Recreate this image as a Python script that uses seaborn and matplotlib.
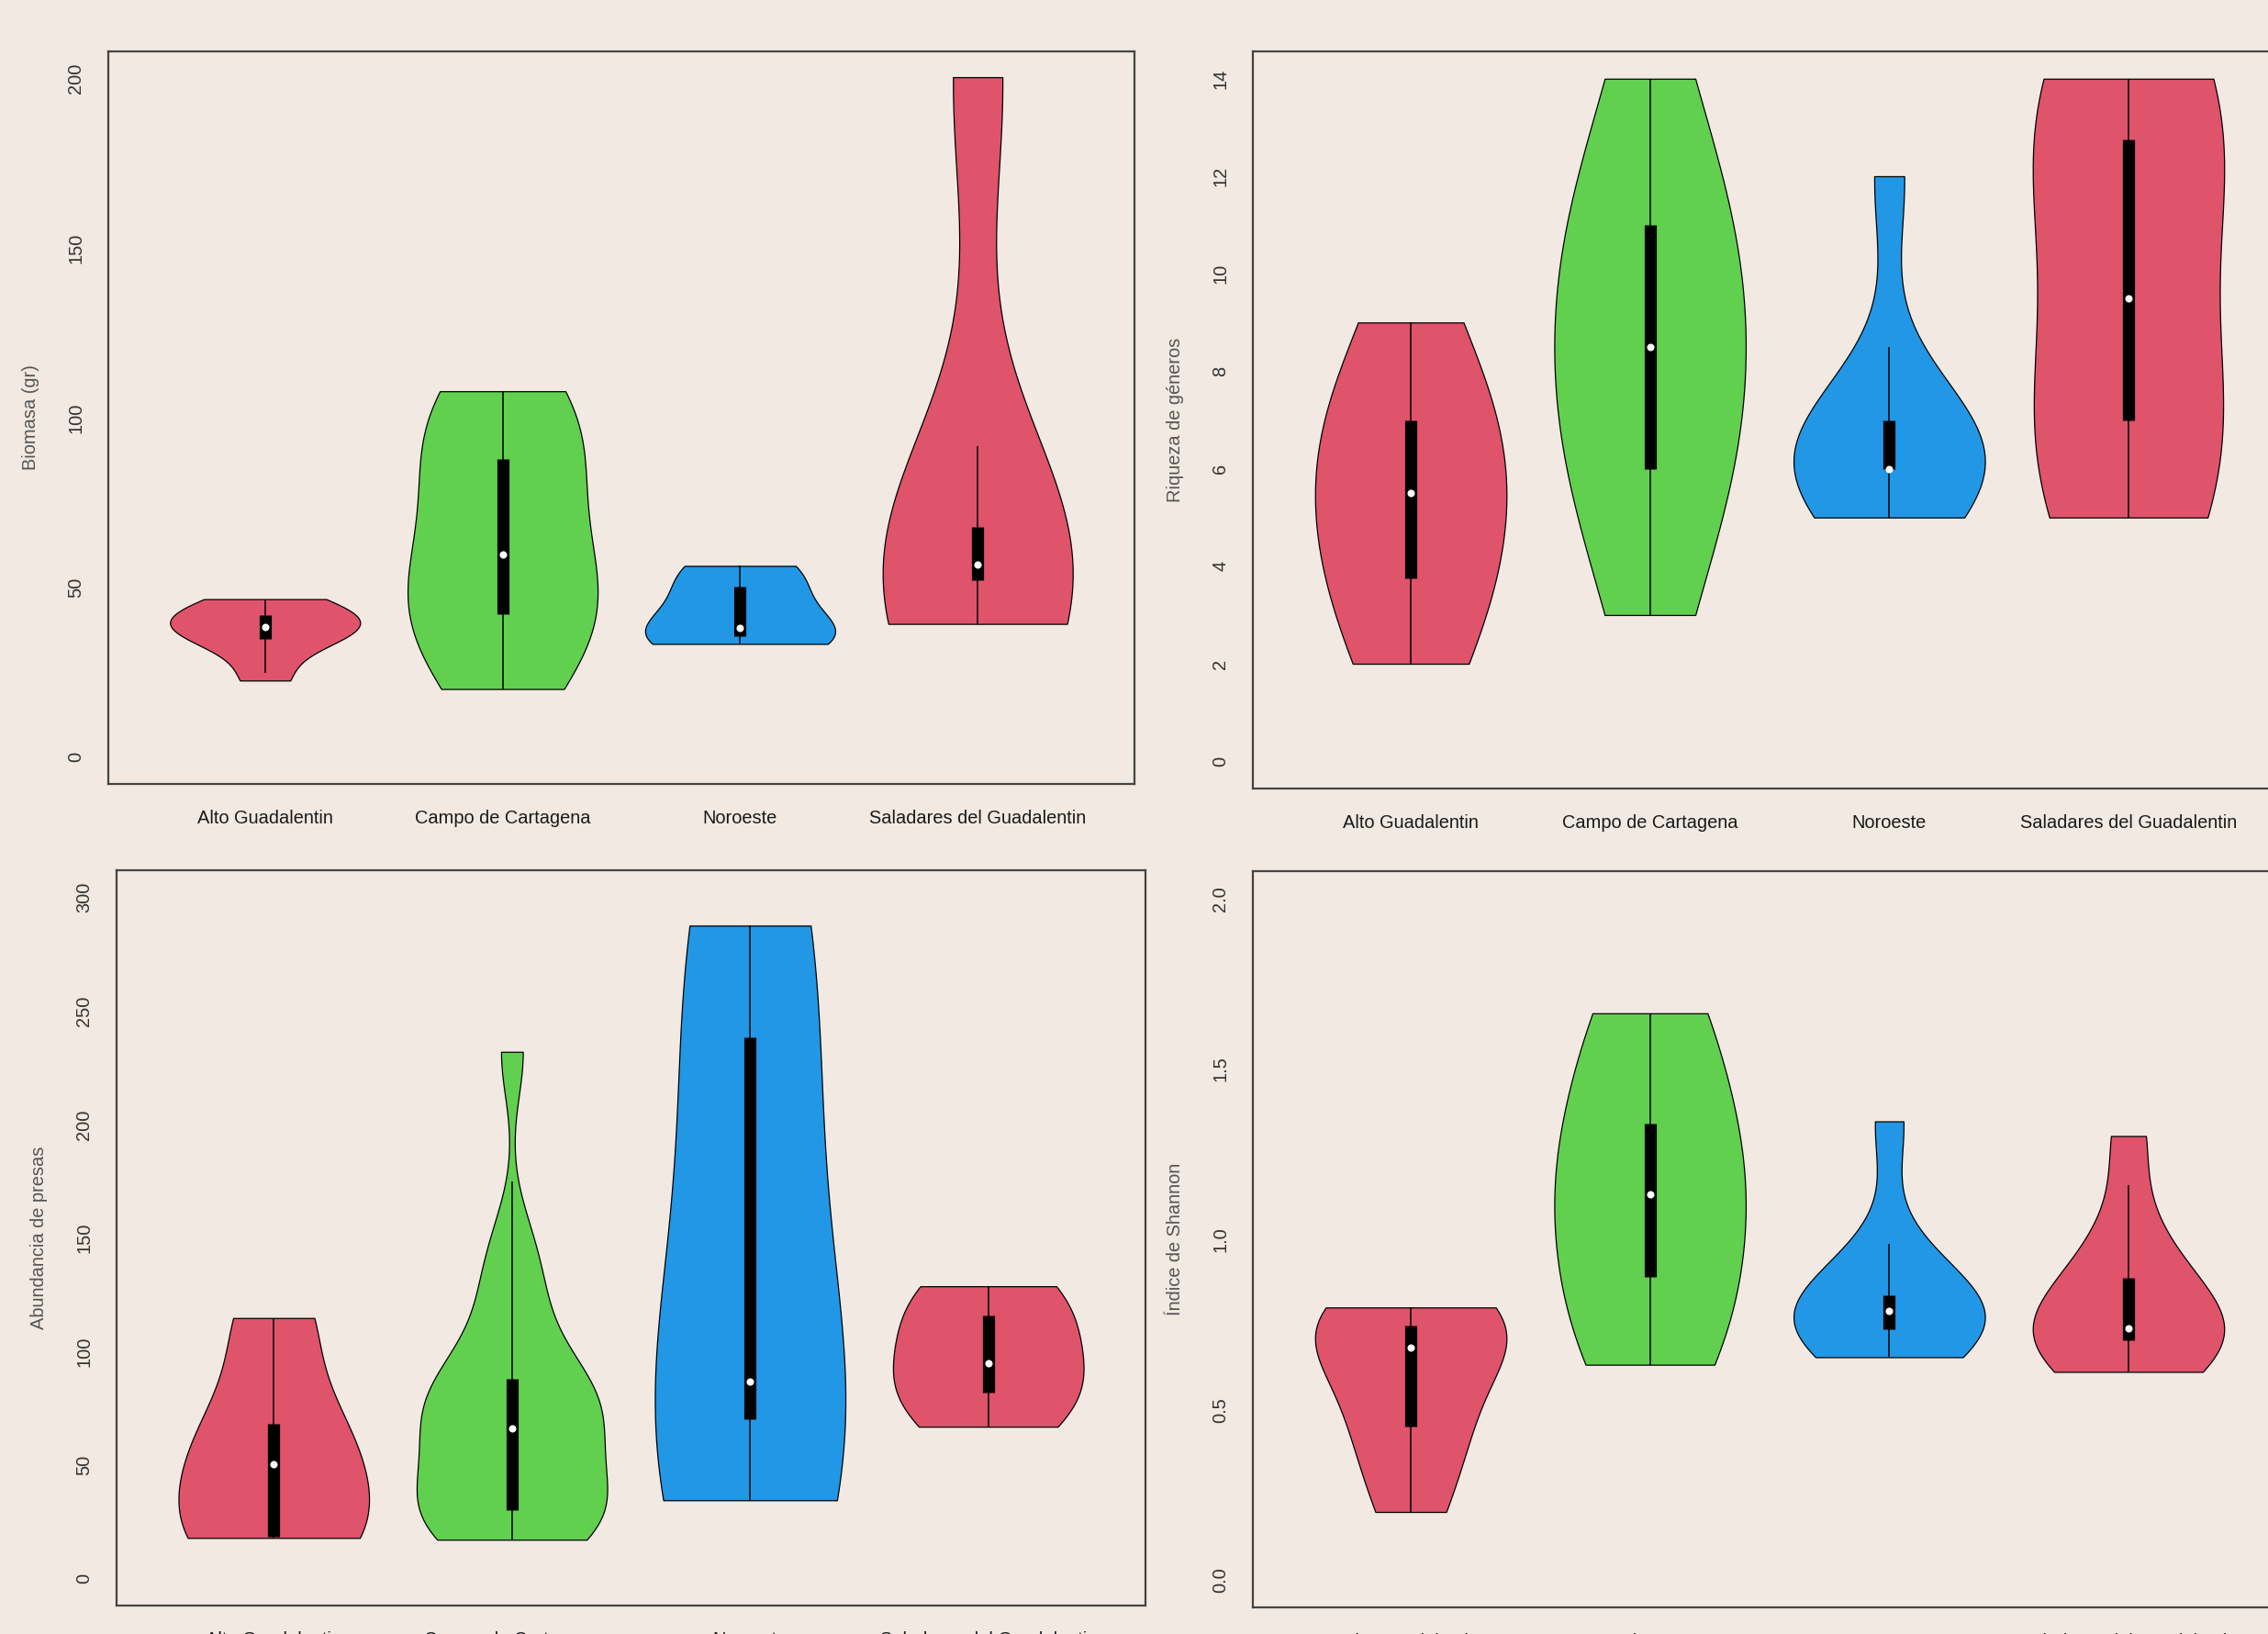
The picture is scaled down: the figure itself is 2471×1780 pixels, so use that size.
import numpy as np
import pandas as pd
import seaborn as sns
import matplotlib.pyplot as plt

# Zonas y colores (paleta por defecto de R: 2, 3, 4, 2)
zonas = ['Alto Guadalentin', 'Campo de Cartagena', 'Noroeste', 'Saladares del Guadalentin']
colores = ['#DF536B', '#61D04F', '#2297E6', '#DF536B']

# Biomasa (gr)
biomasa_alto = [22.5, 33, 36.8, 38.4, 40.5, 42.9, 46.5]
biomasa_campo = [20, 38, 46.4, 59.6, 80, 95.6, 107.8]
biomasa_noroeste = [33.3, 35.6, 37.9, 50.3, 56.3]
biomasa_saladares = [39.2, 52, 56.6, 67.8, 200.4]

# Riqueza de géneros
riqueza_alto = [2, 3, 4, 5, 6, 7, 7, 9]
riqueza_campo = [3, 6, 6, 8, 9, 11, 11, 14]
riqueza_noroeste = [5, 6, 6, 6, 6, 7, 7, 12]
riqueza_saladares = [5, 7, 7, 12, 13, 14]

# Abundancia de presas
abundancia_alto = [17.8, 18.3, 50.2, 68.1, 114.7]
abundancia_campo = [17, 19, 22, 25, 28, 30, 38, 46, 53, 60, 66, 72, 77, 81, 85, 88,
                    100, 118, 132, 150, 232]
abundancia_noroeste = [34.4, 70, 86.6, 238.5, 287.6]
abundancia_saladares = [66.8, 82, 94.9, 116, 128.7]

# Índice de Shannon
shannon_alto = [0.2, 0.4, 0.5, 0.683, 0.72, 0.774, 0.8]
shannon_campo = [0.632, 0.89, 1.133, 1.34, 1.663]
shannon_noroeste = [0.654, 0.7, 0.735, 0.76, 0.789, 0.81, 0.836, 0.95, 1.346]
shannon_saladares = [0.611, 0.66, 0.705, 0.72, 0.738, 0.8, 0.887, 1.0, 1.303]

FONDO = '#F1E9E2'
W, H = 2471, 1780


def dibujar_panel(ax, grupos, ylabel, ylim, yticks, bws, ax_px_width, decimales=False):
    df = pd.concat([pd.DataFrame({'zona': z, 'valor': v}) for z, v in zip(zonas, grupos)],
                   ignore_index=True)

    # Un violín por zona, cada uno con su propio ancho de banda
    for zona, color, bw in zip(zonas, colores, bws):
        sns.violinplot(data=df[df['zona'] == zona], x='zona', y='valor', order=zonas,
                       color=color, cut=0, inner=None, width=0.8, density_norm='width',
                       bw_adjust=bw, linewidth=0.9, linecolor='black', saturation=1, ax=ax)

    # Caja interior al estilo vioplot (bigotes hasta 1.5 IQR recortados al rango)
    for i, valores in enumerate(grupos):
        v = np.asarray(valores, dtype=float)
        q1, med, q3 = np.percentile(v, [25, 50, 75])
        iqr = q3 - q1
        lo = max(q1 - 1.5 * iqr, v.min())
        hi = min(q3 + 1.5 * iqr, v.max())
        ax.plot([i, i], [lo, hi], color='black', lw=1.1, solid_capstyle='butt', zorder=3)
        ax.plot([i, i], [q1, q3], color='black', lw=9.5, solid_capstyle='butt', zorder=3)
        ax.plot(i, med, 'o', color='white', ms=5.8, mew=0, zorder=4)

    # Límites con la expansión del 4% de R
    y0, y1 = ylim
    pad = 0.04 * (y1 - y0)
    ax.set_ylim(y0 - pad, y1 + pad)
    ax.set_xlim(-0.66, 3.66)

    ax.set_facecolor(FONDO)
    for s in ax.spines.values():
        s.set_visible(True)
        s.set_color('#444444')
        s.set_linewidth(1.6)

    ax.set_xlabel('')
    ax.set_xticks(range(len(zonas)))
    ax.set_xticklabels(zonas, fontsize=14.4, color='#1a1a1a')
    ax.tick_params(axis='x', length=8.6, width=1.4, color='#444444', pad=11.5)

    ax.set_yticks(yticks)
    etiquetas = [f'{t:.1f}' for t in yticks] if decimales else [str(t) for t in yticks]
    ax.set_yticklabels(etiquetas, fontsize=14.4, color='#333333', rotation=90, va='center')
    ax.tick_params(axis='y', length=8, width=1.4, color='#444444', pad=10.5)

    ax.set_ylabel(ylabel, fontsize=14.4, color='#555555', va='center')
    ax.yaxis.set_label_coords(-84 / ax_px_width, 0.5)


sns.set_style('white')
plt.rcParams['font.family'] = ['Liberation Sans', 'DejaVu Sans']

fig = plt.figure(figsize=(W / 100, H / 100), dpi=100)
fig.patch.set_facecolor(FONDO)


def caja(left, right, top, bottom):
    return [left / W, (H - bottom) / H, (right - left) / W, (bottom - top) / H]


ax_bio = fig.add_axes(caja(118, 1236, 56, 854))
ax_riq = fig.add_axes(caja(1365, 2491, 56, 859))
ax_abu = fig.add_axes(caja(127, 1248, 948, 1749))
ax_sha = fig.add_axes(caja(1365, 2491, 949, 1751))

dibujar_panel(ax_bio, [biomasa_alto, biomasa_campo, biomasa_noroeste, biomasa_saladares],
              'Biomasa (gr)', (0, 200), [0, 50, 100, 150, 200],
              [1.06, 0.9, 1.06, 0.85], 1118)
dibujar_panel(ax_riq, [riqueza_alto, riqueza_campo, riqueza_noroeste, riqueza_saladares],
              'Riqueza de géneros', (0, 14), list(range(0, 15, 2)),
              [1.4, 1.06, 1.06, 1.06], 1126)
dibujar_panel(ax_abu, [abundancia_alto, abundancia_campo, abundancia_noroeste, abundancia_saladares],
              'Abundancia de presas', (0, 300), [0, 50, 100, 150, 200, 250, 300],
              [0.85, 0.7, 1.06, 1.06], 1121)
dibujar_panel(ax_sha, [shannon_alto, shannon_campo, shannon_noroeste, shannon_saladares],
              'Índice de Shannon', (0, 2), [0.0, 0.5, 1.0, 1.5, 2.0],
              [1.0, 0.9, 1.06, 1.06], 1126, decimales=True)

plt.savefig('out.png', dpi=100, facecolor=FONDO)
